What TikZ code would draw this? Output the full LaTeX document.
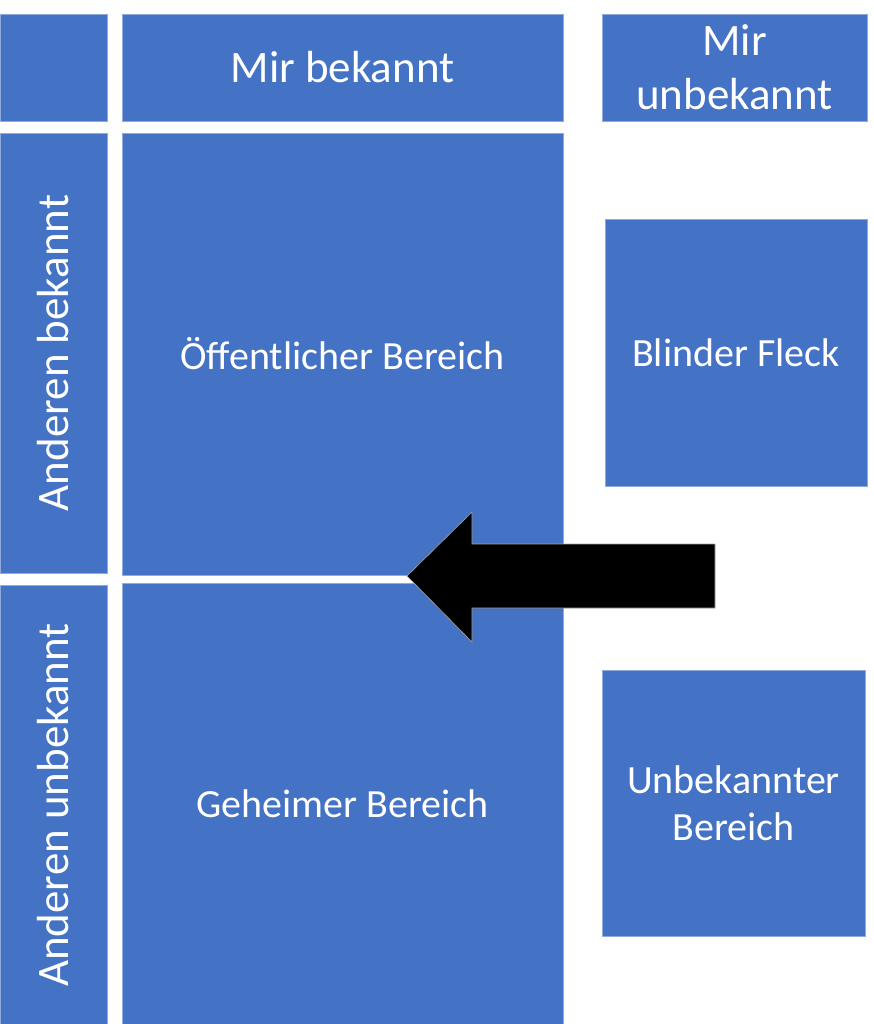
\documentclass[tikz,border=0pt]{standalone}
\usepackage{fontspec}
\setmainfont{Carlito}
\definecolor{boxblue}{HTML}{4472C4}
\definecolor{boxedge}{HTML}{8FAADC}
\begin{document}
\begin{tikzpicture}[x=1pt,y=-1pt,
  box/.style={fill=boxblue, draw=boxedge, line width=0.6pt, text=white, inner sep=0pt, align=center},
  head/.style={font=\fontsize{45}{54}\selectfont},
  body/.style={font=\fontsize{40}{47}\selectfont}]
\useasboundingbox (0,0) rectangle (873,1024);
% header row
\node[box, minimum width=107, minimum height=107] (corner) at (53.5,67.5) {};
\node[box, head, minimum width=441, minimum height=107] (mb) at (342.5,67.5) {Mir bekannt};
\node[box, head, minimum width=265, minimum height=107] (mu) at (734.5,67.5) {Mir\\unbekannt};
% left column
\node[box, head, minimum width=440, minimum height=107, rotate=90] (ab) at (53.5,353) {Anderen bekannt};
\node[box, head, minimum width=440, minimum height=107, rotate=90] (au) at (53.5,805) {Anderen unbekannt};
% main fields
\node[box, body, minimum width=441, minimum height=442] (oe) at (342.5,354) {Öffentlicher Bereich};
\node[box, body, minimum width=441, minimum height=442] (ge) at (342.5,804) {Geheimer Bereich};
\node[box, body, minimum width=262, minimum height=267] (bf) at (736,352.5) {Blinder Fleck};
\node[box, body, minimum width=263, minimum height=266] (ub) at (733.5,803.5) {Unbekannter\\Bereich};
% arrow
\fill[black, draw=gray!70, line width=0.6pt]
  (715,544) -- (472,544) -- (472,512) -- (407,576) -- (472,642) -- (472,608) -- (715,608) -- cycle;
\end{tikzpicture}
\end{document}
